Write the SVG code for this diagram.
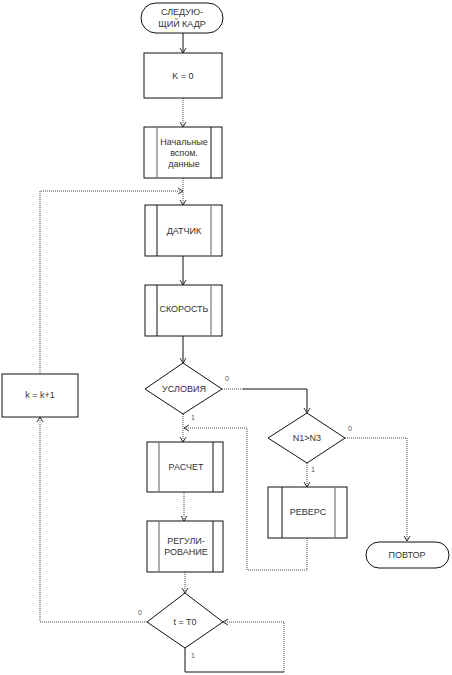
<svg xmlns="http://www.w3.org/2000/svg" width="452" height="675" viewBox="0 0 452 675">
<style>
text{font-family:"Liberation Sans",Arial,sans-serif;font-size:9px;fill:#333;text-anchor:middle}
.lbl{font-size:7px;fill:#555}
.box{fill:#fff;stroke:#111;stroke-width:1}
.inner{stroke:#111;stroke-width:1}
.innerg{stroke:#777;stroke-width:1.2}
.dot{fill:none;stroke:#444;stroke-width:1;stroke-dasharray:1,1}
.sol{fill:none;stroke:#111;stroke-width:1}
</style>
<defs>
<marker id="ar" markerWidth="8" markerHeight="8" refX="6" refY="4" orient="auto" markerUnits="userSpaceOnUse">
<path d="M1,1 L6,4 L1,7" fill="none" stroke="#333" stroke-width="1"/>
</marker>
</defs>
<g id="connectors">
<path class="sol" d="M183,33 V53" marker-end="url(#ar)"/>
<path class="dot" d="M183,98 V127" marker-end="url(#ar)"/>
<path class="dot" d="M183,178 V205" marker-end="url(#ar)"/>
<path class="dot" d="M40,374 V191 H183" marker-end="url(#ar)"/>
<path class="sol" d="M183,256 V285" marker-end="url(#ar)"/>
<path class="sol" d="M183,336 V363" marker-end="url(#ar)"/>
<path class="dot" d="M222,389 H243"/>
<path class="sol" d="M243,389 H307 V413" marker-end="url(#ar)"/>
<path class="dot" d="M183,414 V442" marker-end="url(#ar)"/>
<path class="dot" d="M345,438 H407 V541" marker-end="url(#ar)"/>
<path class="dot" d="M307,463 V487" marker-end="url(#ar)"/>
<path class="dot" d="M307,538 V570 H247 V428 H184" marker-end="url(#ar)"/>
<path class="dot" d="M184,492 V521" marker-end="url(#ar)"/>
<path class="dot" d="M185,572 V593" marker-end="url(#ar)"/>
<path class="dot" d="M147,622 H40 V417" marker-end="url(#ar)"/>
<path class="sol" d="M185,648 V672 H284"/>
<path class="dot" d="M284,672 V622 H223" marker-end="url(#ar)"/>
</g>
<g id="start">
<rect class="box" x="141" y="3" width="82" height="30" rx="15"/>
<text x="182" y="15">СЛЕДУЮ-</text>
<text x="182" y="27">ЩИЙ КАДР</text>
</g>
<g id="k0">
<rect class="box" x="144" y="53" width="78" height="45"/>
<text x="183" y="79">K = 0</text>
</g>
<g id="init">
<rect class="box" x="144" y="127" width="78" height="51"/>
<line class="innerg" x1="157" y1="127" x2="157" y2="178"/>
<line class="inner" x1="211" y1="127" x2="211" y2="178"/>
<text x="184" y="145">Начальные</text>
<text x="184" y="156">вспом.</text>
<text x="184" y="167">данные</text>
</g>
<g id="sensor">
<rect class="box" x="145" y="205" width="77" height="51"/>
<line class="inner" x1="157" y1="205" x2="157" y2="256"/>
<line class="innerg" x1="211" y1="205" x2="211" y2="256"/>
<text x="184" y="234">ДАТЧИК</text>
</g>
<g id="speed">
<rect class="box" x="145" y="285" width="77" height="51"/>
<line class="inner" x1="157" y1="285" x2="157" y2="336"/>
<line class="innerg" x1="211" y1="285" x2="211" y2="336"/>
<text x="184" y="312">СКОРОСТЬ</text>
</g>
<g id="cond">
<polygon class="box" points="183,363 222,389 183,414 145,389"/>
<text x="184" y="392">УСЛОВИЯ</text>
<text class="lbl" x="227" y="381">0</text>
<text class="lbl" x="193" y="420">1</text>
</g>
<g id="n1n3">
<polygon class="box" points="307,413 345,438 307,463 268,438"/>
<text x="307" y="441">N1&gt;N3</text>
<text class="lbl" x="350" y="431">0</text>
<text class="lbl" x="313" y="472">1</text>
</g>
<g id="calc">
<rect class="box" x="147" y="442" width="76" height="50"/>
<line class="innerg" x1="159" y1="442" x2="159" y2="492"/>
<line class="inner" x1="213" y1="442" x2="213" y2="492"/>
<text x="186" y="470">РАСЧЕТ</text>
</g>
<g id="reverse">
<rect class="box" x="268" y="487" width="79" height="51"/>
<line class="inner" x1="282" y1="487" x2="282" y2="538"/>
<line class="innerg" x1="335" y1="487" x2="335" y2="538"/>
<text x="308" y="515">РЕВЕРС</text>
</g>
<g id="repeat">
<rect class="box" x="366" y="542" width="83" height="26" rx="13"/>
<text x="407" y="558">ПОВТОР</text>
</g>
<g id="reg">
<rect class="box" x="147" y="521" width="76" height="51"/>
<line class="innerg" x1="159" y1="521" x2="159" y2="572"/>
<line class="inner" x1="213" y1="521" x2="213" y2="572"/>
<text x="186" y="544">РЕГУЛИ-</text>
<text x="186" y="555">РОВАНИЕ</text>
</g>
<g id="tt0">
<polygon class="box" points="185,593 223,622 185,648 147,622"/>
<text x="185" y="625">t = T0</text>
<text class="lbl" x="140" y="615">0</text>
<text class="lbl" x="193" y="658">1</text>
</g>
<g id="kinc">
<rect class="box" x="2" y="374" width="76" height="43"/>
<text x="40" y="398">k = k+1</text>
</g>
</svg>
